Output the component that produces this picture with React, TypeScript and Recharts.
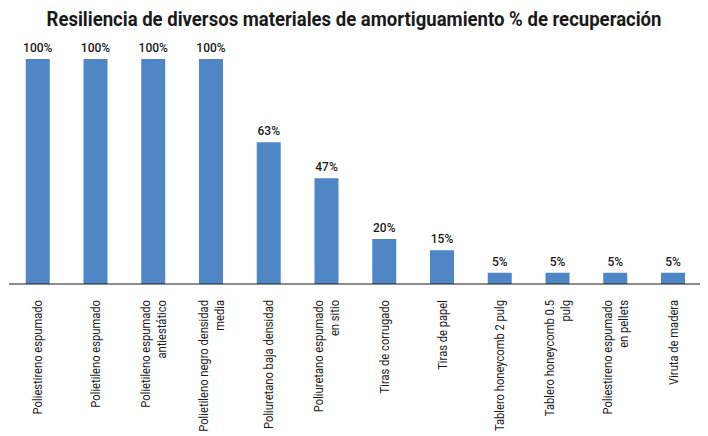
import React from "react";
import { BarChart, Bar, XAxis, YAxis, LabelList } from "recharts";

const materials = [
  ["Poliestireno espumado"],
  ["Polietileno espumado"],
  ["Polietileno espumado", "antiestático"],
  ["Polietileno negro densidad", "media"],
  ["Poliuretano baja densidad"],
  ["Poliuretano espumado", "en sitio"],
  ["Tiras de corrugado"],
  ["Tiras de papel"],
  ["Tablero honeycomb 2 pulg"],
  ["Tablero honeycomb 0.5", "pulg"],
  ["Poliestireno espumado", "en pellets"],
  ["Viruta de madera"],
];

const recovery = [100, 100, 100, 100, 63, 47, 20, 15, 5, 5, 5, 5];

const data = materials.map((lines, i) => ({
  name: lines.join(" "),
  lines,
  value: recovery[i],
}));

const FONT = "Roboto, 'Noto Sans', sans-serif";
const TITLE = "Resiliencia de diversos materiales de amortiguamiento % de recuperación";

// narrow font in the original, so squeeze the text along its own direction
const MaterialTick = (props: any) => {
  const { x, y, payload, index } = props;
  const lines = data[index]?.lines ?? [payload.value];
  const lh = 16;
  const start = -((lines.length - 1) * lh) / 2;
  return (
    <g transform={`translate(${x},${y + 8}) rotate(-90) scale(0.86,1)`}>
      <text textAnchor="end" fontSize={13} fill="#1a1a1a" fontFamily={FONT}>
        {lines.map((l: string, i: number) => (
          <tspan key={i} x={0} y={start + i * lh} dy="0.35em">
            {l}
          </tspan>
        ))}
      </text>
    </g>
  );
};

export default function App() {
  return (
    <div style={{ position: "relative", width: 700, height: 428 }}>
      <svg
        width={700}
        height={34}
        style={{ position: "absolute", top: 0, left: 0 }}
      >
        <text
          x={346}
          y={18}
          textAnchor="middle"
          textLength={615}
          lengthAdjust="spacingAndGlyphs"
          fontFamily={FONT}
          fontWeight="bold"
          fontSize={19.5}
          fill="#1a1a1a"
        >
          {TITLE}
        </text>
      </svg>
      <BarChart
        width={700}
        height={428}
        data={data}
        margin={{ top: 51, right: 6, bottom: 0, left: 1 }}
        barCategoryGap="29%"
      >
        <YAxis hide domain={[0, 100]} />
        <XAxis
          dataKey="name"
          interval={0}
          height={152}
          tickLine={false}
          axisLine={{ stroke: "#1a1a1a", strokeWidth: 1.2 }}
          tick={<MaterialTick />}
        />
        <Bar dataKey="value" fill="#4f86c6" isAnimationActive={false}>
          <LabelList
            dataKey="value"
            position="top"
            offset={7}
            formatter={(v: any) => `${v}%`}
            style={{ fontSize: 12, fill: "#1a1a1a", fontFamily: FONT, fontWeight: 500 }}
          />
        </Bar>
      </BarChart>
    </div>
  );
}
